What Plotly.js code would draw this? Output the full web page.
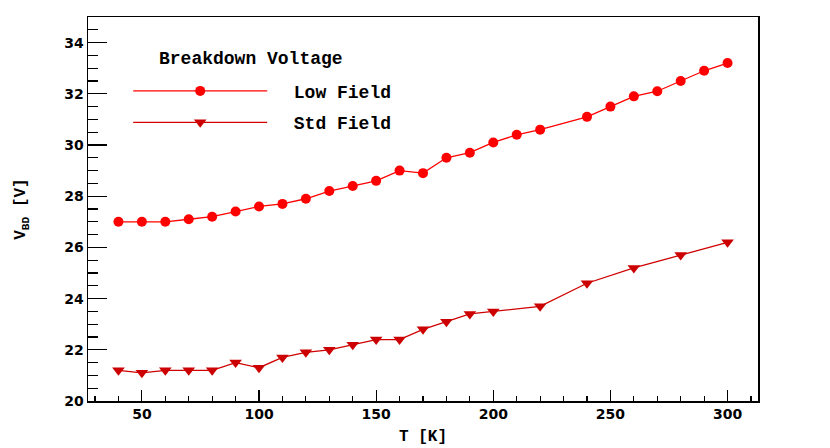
<!DOCTYPE html>
<html>
<head>
<meta charset="utf-8">
<script src="https://cdn.plot.ly/plotly-3.0.1.min.js"></script>
<style>html,body{margin:0;padding:0;background:#fff;}#chart{width:830px;height:448px;}</style>
</head>
<body>
<div id="chart"></div>
<script>
// Temperatures [K]
const tLow = [40,50,60,70,80,90,100,110,120,130,140,150,160,170,180,190,200,210,220,240,250,260,270,280,290,300];
const vLow = [27.0,27.0,27.0,27.1,27.2,27.4,27.6,27.7,27.9,28.2,28.4,28.6,29.0,28.9,29.5,29.7,30.1,30.4,30.6,31.1,31.5,31.9,32.1,32.5,32.9,33.2];

const tStd = [40,50,60,70,80,90,100,110,120,130,140,150,160,170,180,190,200,220,240,260,280,300];
const vStd = [21.2,21.1,21.2,21.2,21.2,21.5,21.3,21.7,21.9,22.0,22.2,22.4,22.4,22.8,23.1,23.4,23.5,23.7,24.6,25.2,25.7,26.2];

const seriesNames = ['Low Field', 'Std Field'];
const legendTitle = 'Breakdown Voltage';
const xTitle = 'T [K]';
const yTitle = 'V<sub>BD</sub> [V]';

const mono = 'Liberation Mono, Courier New, monospace';
const sans = 'DejaVu Sans, sans-serif';
const pad = '\u00a0\u00a0';

const traces = [
  {
    x: tLow, y: vLow, name: pad + seriesNames[0], type: 'scatter', mode: 'lines+markers',
    legendgroup: 'a',
    line: {color: '#ff0000', width: 1.3},
    marker: {symbol: 'circle', size: 10, color: '#ff0000'}
  },
  {
    x: tStd, y: vStd, name: pad + seriesNames[1], type: 'scatter', mode: 'lines+markers',
    legendgroup: 'b',
    line: {color: '#d00000', width: 1.3},
    marker: {symbol: 'triangle-down', size: 11, color: '#cc0000'}
  }
];

const layout = {
  width: 830, height: 448,
  margin: {l: 88, r: 72, t: 17, b: 47},
  paper_bgcolor: '#ffffff', plot_bgcolor: '#ffffff',
  showlegend: true,
  legend: {
    x: 0.06, y: 0.855, xanchor: 'left', yanchor: 'top',
    bgcolor: 'rgba(0,0,0,0)', borderwidth: 0,
    itemwidth: 134, tracegroupgap: 5,
    font: {family: mono, size: 18, color: '#000', weight: 'bold'}
  },
  annotations: [{
    text: legendTitle, xref: 'paper', yref: 'paper', x: 0.243, y: 0.8906,
    xanchor: 'center', yanchor: 'middle', showarrow: false,
    font: {family: mono, size: 18, color: '#000', weight: 'bold'}
  }],
  xaxis: {
    range: [27, 313], tick0: 0, dtick: 50,
    showgrid: false, zeroline: false,
    showline: true, linecolor: '#000', linewidth: 1.5, mirror: true,
    ticks: 'inside', ticklen: 11, tickwidth: 1.2, tickcolor: '#000',
    minor: {dtick: 10, ticks: 'inside', ticklen: 5, tickwidth: 1.2, tickcolor: '#000', showgrid: false},
    tickfont: {family: sans, size: 14, color: '#000', weight: 'bold'},
    title: {text: xTitle, font: {family: mono, size: 16, color: '#000', weight: 'bold'}, standoff: 8}
  },
  yaxis: {
    range: [20, 35], tick0: 0, dtick: 2,
    showgrid: false, zeroline: false,
    showline: true, linecolor: '#000', linewidth: 1.5, mirror: true,
    ticks: 'inside', ticklen: 19, tickwidth: 1.2, tickcolor: '#000',
    minor: {dtick: 0.5, ticks: 'inside', ticklen: 10, tickwidth: 1.2, tickcolor: '#000', showgrid: false},
    tickfont: {family: sans, size: 14, color: '#000', weight: 'bold'},
    title: {text: yTitle, font: {family: mono, size: 16, color: '#000', weight: 'bold'}, standoff: 34}
  }
};

Plotly.newPlot('chart', traces, layout, {staticPlot: true, displayModeBar: false});
</script>
</body>
</html>
